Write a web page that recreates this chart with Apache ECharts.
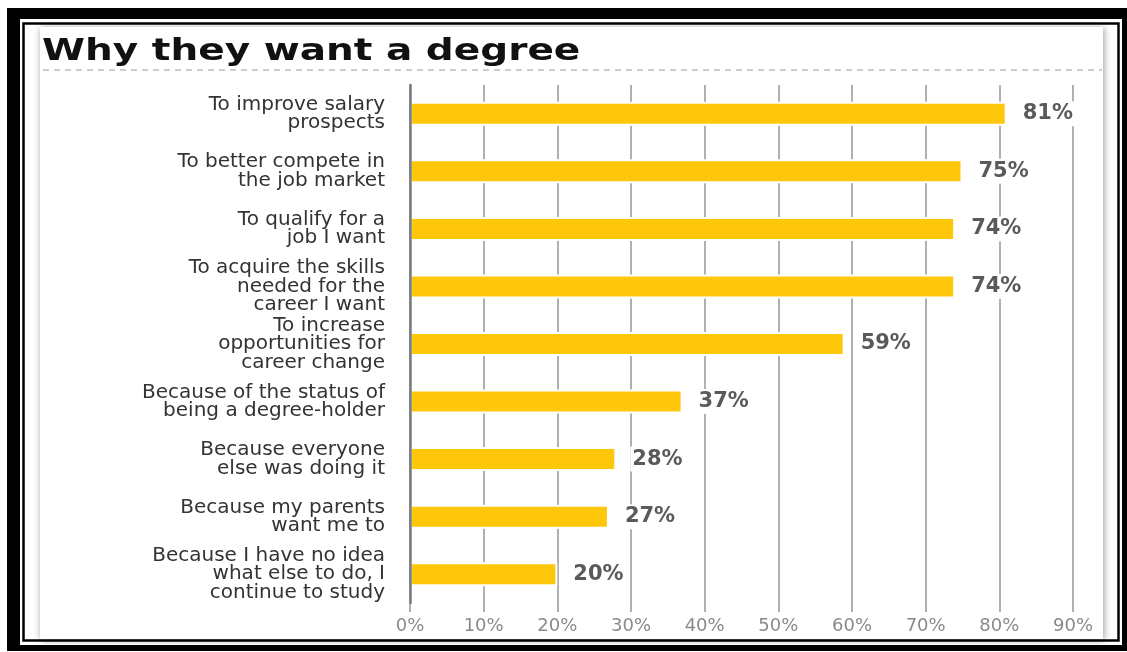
<!DOCTYPE html>
<html>
<head>
<meta charset="utf-8">
<script src="https://cdn.jsdelivr.net/npm/echarts@6/dist/echarts.min.js"></script>
<style>
html,body{margin:0;padding:0;background:#fff;}
#chart{width:1127px;height:652px;}
</style>
</head>
<body>
<div id="chart"></div>
<script>
const titleText = "Why they want a degree";
const categories = [
  "To improve salary\nprospects",
  "To better compete in\nthe job market",
  "To qualify for a\njob I want",
  "To acquire the skills\nneeded for the\ncareer I want",
  "To increase\nopportunities for\ncareer change",
  "Because of the status of\nbeing a degree-holder",
  "Because everyone\nelse was doing it",
  "Because my parents\nwant me to",
  "Because I have no idea\nwhat else to do, I\ncontinue to study"
];
const values = [81, 75, 74, 74, 59, 37, 28, 27, 20];
const axisMin = 0, axisMax = 90, axisStep = 10;

const chart = echarts.init(document.getElementById('chart'));
chart.setOption({
  animation: false,
  backgroundColor: '#fff',
  graphic: [
    {type:'rect', z:-10, shape:{x:7,y:8,width:1120,height:643}, style:{fill:'#000'}},
    {type:'rect', z:-9, shape:{x:20,y:19,width:1102,height:626}, style:{fill:'#fff'}},
    {type:'rect', z:-8, shape:{x:23.5,y:23.5,width:1095,height:617}, style:{fill:'#fff', stroke:'#000', lineWidth:2.5}},
    {type:'rect', z:-7, shape:{x:40,y:27,width:1063,height:612}, style:{fill:'#fff', shadowBlur:7, shadowColor:'rgba(0,0,0,0.4)', shadowOffsetX:1, shadowOffsetY:1}},
    {type:'line', z:-6, shape:{x1:43,y1:70,x2:1102,y2:70}, style:{stroke:'#9a9a9a', lineWidth:1, lineDash:[6,5]}},
    {type:'text', z:5, left:42, top:37, scaleX:1.3, style:{text:titleText, fill:'#111', font:'bold 30px "DejaVu Sans"'}}
  ],
  grid: {left: 410, right: 54, top: 85, bottom: 49, containLabel: false},
  xAxis: {
    type: 'value', min: axisMin, max: axisMax, interval: axisStep,
    axisLine: {show: false},
    axisTick: {show: true, length: 9, lineStyle: {color: '#b0b0b0', width: 2}},
    splitLine: {show: true, lineStyle: {color: '#b0b0b0', width: 2}},
    axisLabel: {formatter: '{value}%', color: '#8a8a8a', fontSize: 18, fontFamily: 'DejaVu Sans', margin: 14}
  },
  yAxis: {
    type: 'category', data: categories, inverse: true, z: 5,
    axisLine: {show: true, lineStyle: {color: '#7a7a7a', width: 2.5}},
    axisTick: {show: false},
    axisLabel: {color: '#333', fontSize: 20, lineHeight: 18.5, fontFamily: 'DejaVu Sans', margin: 25, align: 'right'}
  },
  series: [{
    type: 'bar', data: values, barWidth: 24,
    itemStyle: {color: '#ffc70a', borderColor: '#fff', borderWidth: 2},
    label: {
      show: true, position: 'right', distance: 14, formatter: '{c}%',
      color: '#5a5a5a', fontSize: 21, fontWeight: 'bold', fontFamily: 'DejaVu Sans',
      backgroundColor: '#fff', padding: [2, 2]
    }
  }]
});
</script>
</body>
</html>
